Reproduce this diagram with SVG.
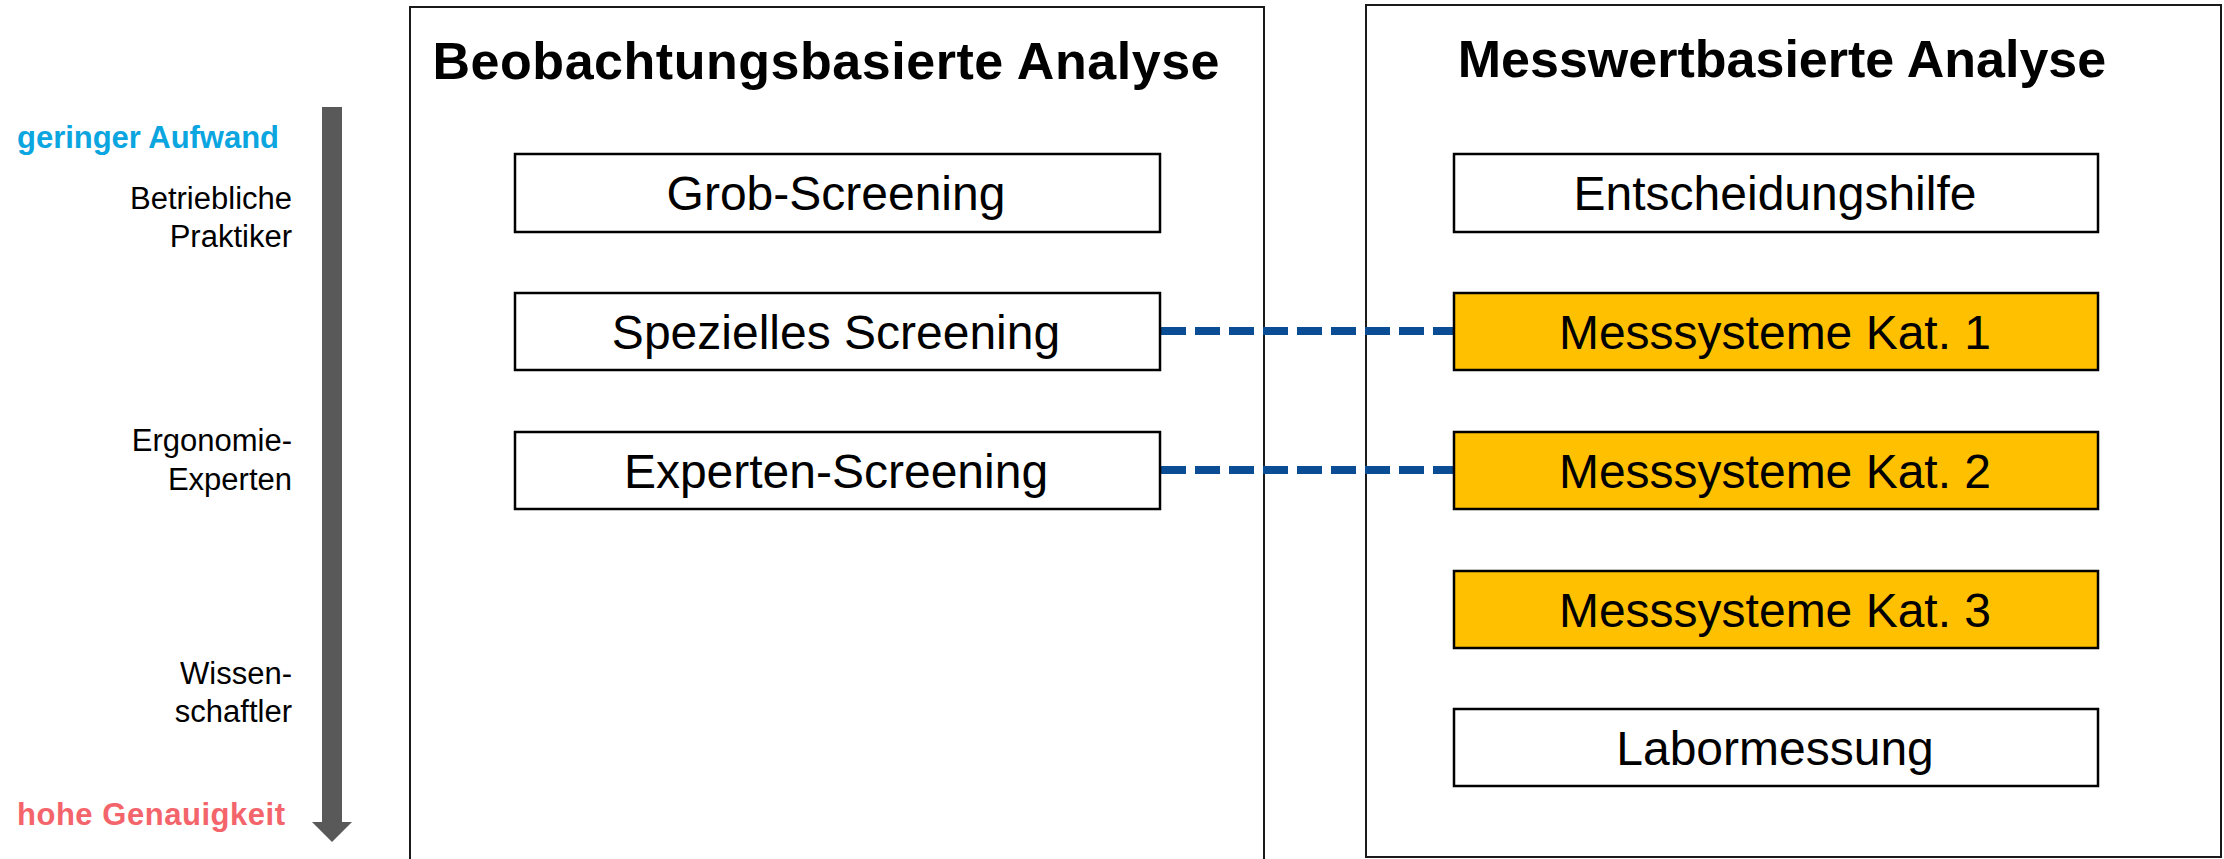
<svg xmlns="http://www.w3.org/2000/svg" width="2224" height="859" viewBox="0 0 2224 859">
  <style>
    .panel { fill: #ffffff; stroke: #1a1a1a; stroke-width: 2; }
    .box { fill: #ffffff; stroke: #000000; stroke-width: 2.5; }
    .box.hl { fill: #FFC000; }
    .title { font-family: "Liberation Sans", Arial, sans-serif; font-weight: bold; font-size: 52px; fill: #000000; text-anchor: middle; }
    .lbl { font-family: "Liberation Sans", Arial, sans-serif; font-size: 48px; fill: #000000; text-anchor: middle; }
    .side { font-family: "Liberation Sans", Arial, sans-serif; font-size: 31px; fill: #000000; text-anchor: end; }
    .axis { font-family: "Liberation Sans", Arial, sans-serif; font-weight: bold; font-size: 31px; }
    .link { stroke: #0A4D94; stroke-width: 8; stroke-dasharray: 25 9; fill: none; }
  </style>

  <rect width="2224" height="859" fill="#ffffff"/>

  <!-- axis: effort vs. accuracy -->
  <g id="axis">
    <path d="M322 107 H342 V822 H352 L332 842 L312 822 H322 Z" fill="#595959"/>
    <text class="axis" x="17" y="148" fill="#0BA5E0" textLength="262" lengthAdjust="spacing">geringer Aufwand</text>
    <text class="axis" x="17" y="825" fill="#F4646B" textLength="268" lengthAdjust="spacing">hohe Genauigkeit</text>
    <text class="side" x="292" y="209">Betriebliche</text>
    <text class="side" x="292" y="247">Praktiker</text>
    <text class="side" x="292" y="451">Ergonomie-</text>
    <text class="side" x="292" y="490">Experten</text>
    <text class="side" x="292" y="684">Wissen-</text>
    <text class="side" x="292" y="722">schaftler</text>
  </g>

  <!-- observation-based panel -->
  <g id="panel-beobachtung">
    <rect class="panel" x="410" y="7" width="854" height="870"/>
    <text class="title" x="826" y="79" textLength="787" lengthAdjust="spacing">Beobachtungsbasierte Analyse</text>
  </g>

  <!-- measurement-based panel -->
  <g id="panel-messwert">
    <rect class="panel" x="1366" y="5" width="855" height="852"/>
    <text class="title" x="1782" y="77">Messwertbasierte Analyse</text>
  </g>

  <!-- connectors -->
  <g id="connectors">
    <line class="link" x1="1161" y1="331" x2="1453" y2="331"/>
    <line class="link" x1="1161" y1="470" x2="1453" y2="470"/>
  </g>

  <g id="grob-screening">
    <rect class="box" x="515" y="154" width="645" height="78"/>
    <text class="lbl" x="836" y="210">Grob-Screening</text>
  </g>
  <g id="spezielles-screening">
    <rect class="box" x="515" y="293" width="645" height="77"/>
    <text class="lbl" x="836" y="349">Spezielles Screening</text>
  </g>
  <g id="experten-screening">
    <rect class="box" x="515" y="432" width="645" height="77"/>
    <text class="lbl" x="836" y="488">Experten-Screening</text>
  </g>

  <g id="entscheidungshilfe">
    <rect class="box" x="1454" y="154" width="644" height="78"/>
    <text class="lbl" x="1775" y="210">Entscheidungshilfe</text>
  </g>
  <g id="messsysteme-kat1">
    <rect class="box hl" x="1454" y="293" width="644" height="77"/>
    <text class="lbl" x="1775" y="349">Messsysteme Kat. 1</text>
  </g>
  <g id="messsysteme-kat2">
    <rect class="box hl" x="1454" y="432" width="644" height="77"/>
    <text class="lbl" x="1775" y="488">Messsysteme Kat. 2</text>
  </g>
  <g id="messsysteme-kat3">
    <rect class="box hl" x="1454" y="571" width="644" height="77"/>
    <text class="lbl" x="1775" y="627">Messsysteme Kat. 3</text>
  </g>
  <g id="labormessung">
    <rect class="box" x="1454" y="709" width="644" height="77"/>
    <text class="lbl" x="1775" y="765">Labormessung</text>
  </g>
</svg>
